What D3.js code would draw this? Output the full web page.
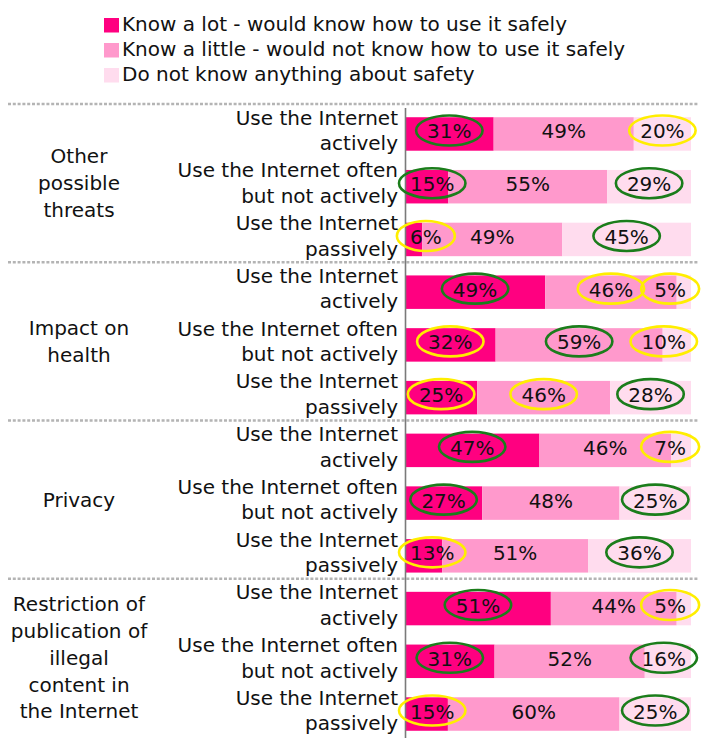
<!DOCTYPE html>
<html>
<head>
<meta charset="utf-8">
<script src="https://cdn.jsdelivr.net/npm/d3@7"></script>
<style>
  html, body { margin: 0; padding: 0; background: #fff; }
  svg { display: block; }
  text { font-family: "DejaVu Sans", Verdana, sans-serif; fill: #111; }
</style>
</head>
<body>
<script>
// ---- data ----
const seriesNames = [
  "Know a lot - would know how to use it safely",
  "Know a little - would not know how to use it safely",
  "Do not know anything about safety"
];
const groupLines = [
  ["Other", "possible", "threats"],
  ["Impact on", "health"],
  ["Privacy"],
  ["Restriction of", "publication of", "illegal", "content in", "the Internet"]
];
const usageLines = [
  ["Use the Internet", "actively"],
  ["Use the Internet often", "but not actively"],
  ["Use the Internet", "passively"]
];
const knowLot    = [31, 15,  6, 49, 32, 25, 47, 27, 13, 51, 31, 15];
const knowLittle = [49, 55, 49, 46, 59, 46, 46, 48, 51, 44, 52, 60];
const notKnow    = [20, 29, 45,  5, 10, 28,  7, 25, 36,  5, 16, 25];
// ring colour around each value label: g = green, y = yellow, null = none
const lotMark    = ["g","g","y","g","y","y","g","g","y","g","g","y"];
const littleMark = [null,null,null,"y","g","y",null,null,null,null,null,null];
const notMark    = ["y","g","g","y","y","g","y","g","g","y","g","g"];

// ---- styles ----
const colors = ["#ff0080", "#ff99cc", "#ffdcee"];
const ringColors = { g: "#1b7d1b", y: "#ffee00" };
const W = 709, H = 738;
const FS = 20;

const rows = [];
groupLines.forEach((g, gi) => usageLines.forEach((u, ui) => {
  const i = gi * usageLines.length + ui;
  rows.push({ id: i, group: gi, usage: ui, v: [knowLot[i], knowLittle[i], notKnow[i]],
              m: [lotMark[i], littleMark[i], notMark[i]] });
}));

const svg = d3.select("body").append("svg").attr("width", W).attr("height", H);

const x = d3.scaleLinear().domain([0, 1]).range([405, 691]);
const y = d3.scaleBand().domain(rows.map(r => r.id)).range([107.6, 740.4])
  .paddingInner(0.365).paddingOuter(0.1825);

const stack = d3.stack().keys([0, 1, 2]).value((d, k) => d.v[k]).offset(d3.stackOffsetExpand);
const layers = stack(rows);

// separators
const nU = usageLines.length;
const sepYs = groupLines.map((g, gi) => y(gi * nU) - y.step() * y.paddingOuter() - 3.5);
svg.append("g").selectAll("line").data(sepYs).join("line")
  .attr("x1", 8).attr("x2", 699).attr("y1", d => d).attr("y2", d => d)
  .attr("stroke", "#b4b4b4").attr("stroke-width", 2.5).attr("stroke-dasharray", "3 1.8");

// bars
svg.append("g").selectAll("g").data(layers).join("g")
  .attr("fill", (d, i) => colors[i])
  .selectAll("rect").data(d => d).join("rect")
  .attr("x", d => x(d[0])).attr("width", d => x(d[1]) - x(d[0]))
  .attr("y", d => y(d.data.id)).attr("height", y.bandwidth());

// axis line
const axis = svg.append("g").attr("transform", `translate(${x(0)},0)`)
  .call(d3.axisLeft(y).tickSize(0).tickSizeOuter(0).tickFormat(""));
axis.select(".domain").attr("stroke", "#7a7a7a").attr("stroke-width", 1.6);

const yc = id => y(id) + y.bandwidth() / 2 - 3.5;

// value labels + rings
const labG = svg.append("g");
layers.forEach((layer, k) => {
  layer.forEach(d => {
    const r = d.data;
    const t = labG.append("text").attr("font-size", FS).attr("text-anchor", "middle")
      .attr("dominant-baseline", "central").text(r.v[k] + "%");
    const w = t.node().getComputedTextLength();
    let cx = (x(d[0]) + x(d[1])) / 2;
    cx = Math.max(cx, x(0) + 5 + w / 2);
    cx = Math.min(cx, x(1) - 5 - w / 2);
    t.attr("x", cx).attr("y", yc(r.id) + 1);
    if (r.m[k]) {
      labG.append("ellipse").attr("cx", cx).attr("cy", yc(r.id))
        .attr("rx", Math.max(w / 2 + 11, 29)).attr("ry", 15)
        .attr("fill", "none").attr("stroke", ringColors[r.m[k]]).attr("stroke-width", 2.6);
    }
  });
});

// row labels
const rowLab = svg.append("g");
rows.forEach(r => {
  const lines = usageLines[r.usage];
  const t = rowLab.append("text").attr("font-size", FS).attr("text-anchor", "end");
  lines.forEach((ln, j) => {
    t.append("tspan").attr("x", 398)
      .attr("y", yc(r.id) + (j - (lines.length - 1) / 2) * 25.5 + 7).text(ln);
  });
});

// group labels
const grpLab = svg.append("g");
groupLines.forEach((lines, gi) => {
  const c = (yc(gi * nU) + yc(gi * nU + nU - 1)) / 2;
  const t = grpLab.append("text").attr("font-size", FS).attr("text-anchor", "middle");
  lines.forEach((ln, j) => {
    t.append("tspan").attr("x", 79)
      .attr("y", c + (j - (lines.length - 1) / 2) * 26.8 + 7).text(ln);
  });
});

// legend
const leg = svg.append("g").selectAll("g").data(seriesNames).join("g")
  .attr("transform", (d, i) => `translate(104,${18 + i * 25})`);
leg.append("rect").attr("width", 15).attr("height", 14.5).attr("fill", (d, i) => colors[i]);
leg.append("text").attr("x", 18).attr("y", 13).attr("font-size", FS).text(d => d);
</script>
</body>
</html>
